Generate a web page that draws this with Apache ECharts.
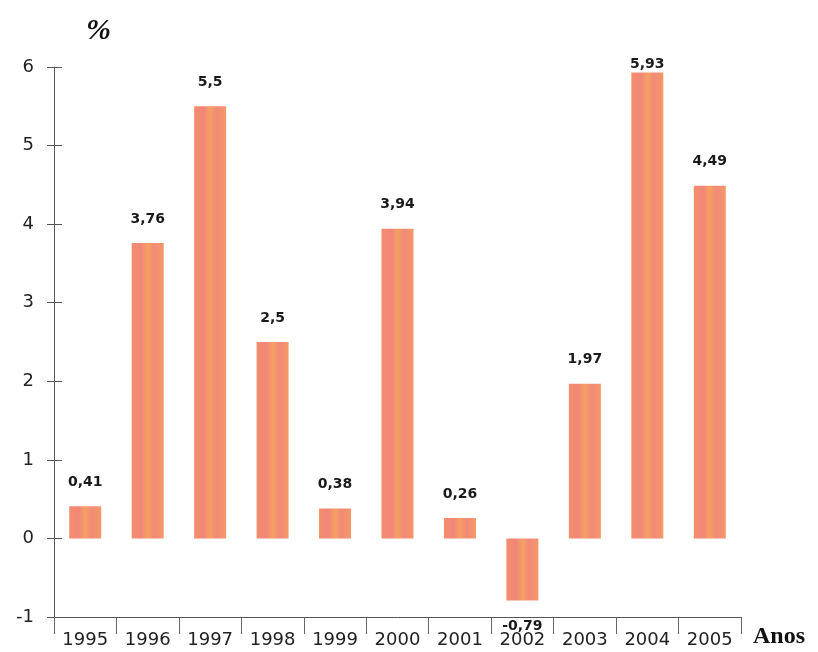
<!DOCTYPE html>
<html>
<head>
<meta charset="utf-8">
<script src="https://cdn.jsdelivr.net/npm/echarts@6/dist/echarts.min.js"></script>
<style>html,body{margin:0;padding:0;background:#fff}#c{width:818px;height:652px}</style>
</head>
<body>
<div id="c"></div>
<script>
const years = ['1995','1996','1997','1998','1999','2000','2001','2002','2003','2004','2005'];
const values = [0.41, 3.76, 5.5, 2.5, 0.38, 3.94, 0.26, -0.79, 1.97, 5.93, 4.49];
const yTicks = [-1, 0, 1, 2, 3, 4, 5, 6];

const chart = echarts.init(document.getElementById('c'), null, {renderer: 'canvas'});
const barColor = new echarts.graphic.LinearGradient(0, 0, 1, 0, [
  {offset: 0, color: '#f48e6c'},
  {offset: 0.3, color: '#f2867a'},
  {offset: 0.5, color: '#f5a062'},
  {offset: 0.7, color: '#f18a78'},
  {offset: 1, color: '#f59868'}
]);
const fmt = v => String(v).replace('.', ',');
const sans = '"DejaVu Sans", "Liberation Sans", Arial, sans-serif';
const gridRect = {left: 54, right: 77, top: 67, bottom: 35, containLabel: false};
chart.setOption({
  animation: false,
  backgroundColor: '#fff',
  grid: [Object.assign({}, gridRect), Object.assign({}, gridRect)],
  graphic: [
    {type: 'text', left: 86, top: 16, style: {text: '%', font: 'italic bold 30px "Liberation Serif", "DejaVu Serif", serif', fill: '#111'}},
    {type: 'text', left: 753, top: 625, style: {text: 'Anos', font: 'bold 24px "Liberation Serif", "DejaVu Serif", serif', fill: '#111'}}
  ],
  xAxis: [{
    type: 'category', gridIndex: 0,
    data: years,
    boundaryGap: true,
    axisLine: {show: true, onZero: false, lineStyle: {color: '#555', width: 1}},
    axisTick: {show: true, length: 17, interval: 0, lineStyle: {color: '#666'}},
    axisLabel: {interval: 0, margin: 14, fontSize: 18, color: '#222', fontFamily: sans}
  }, {
    type: 'category', gridIndex: 1, data: years, show: false
  }],
  yAxis: [{
    type: 'value', gridIndex: 0,
    min: yTicks[0], max: yTicks[yTicks.length - 1], interval: 1,
    axisLine: {show: true, lineStyle: {color: '#5a5470', width: 1}},
    axisTick: {show: true, length: 7, lineStyle: {color: '#555'}},
    axisLabel: {margin: 20, fontSize: 18, color: '#222', fontFamily: sans},
    splitLine: {show: false}
  }, {
    type: 'value', gridIndex: 1, position: 'left',
    min: yTicks[0], max: yTicks[yTicks.length - 1], interval: 1,
    axisLine: {show: false},
    axisTick: {show: true, inside: true, length: 8, lineStyle: {color: '#555'}},
    axisLabel: {show: false},
    splitLine: {show: false}
  }],
  series: [{
    type: 'bar',
    xAxisIndex: 0, yAxisIndex: 0,
    barWidth: 32,
    data: values.map((v, i) => {
      const item = {value: v};
      if (v < 0) item.label = {position: 'bottom', distance: 19};
      if (v > 5.8) item.label = {distance: 1};
      return item;
    }),
    itemStyle: {color: barColor},
    label: {
      show: true, position: 'top', distance: 17,
      formatter: p => fmt(p.value),
      fontSize: 14, fontWeight: 'bold', color: '#1a1a1a',
      fontFamily: sans
    }
  }]
});
</script>
</body>
</html>
